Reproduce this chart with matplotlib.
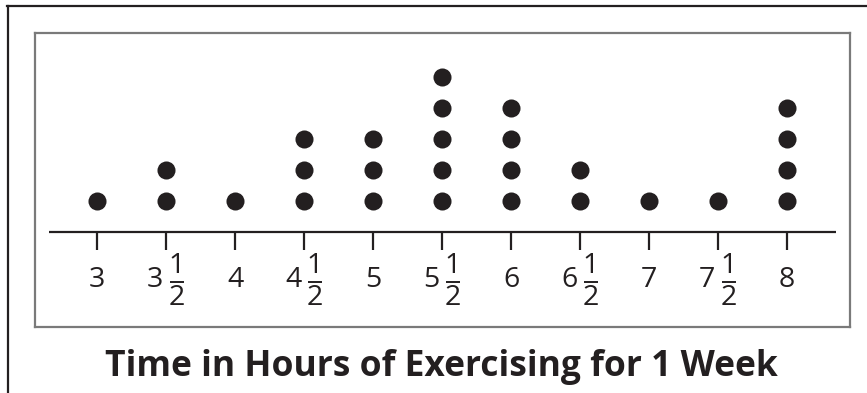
"""Dot plot of weekly exercise time, drawn with matplotlib."""
import matplotlib

matplotlib.use("Agg")
import matplotlib.pyplot as plt
from matplotlib.lines import Line2D

plt.rcParams["font.family"] = ["Open Sans", "DejaVu Sans"]

# hours on the number line and how many people logged each amount
hours = [3, 3.5, 4, 4.5, 5, 5.5, 6, 6.5, 7, 7.5, 8]
counts = [1, 2, 1, 3, 3, 5, 4, 2, 1, 1, 4]
tick_whole = ["3", "3", "4", "4", "5", "5", "6", "6", "7", "7", "8"]
tick_frac = ["", "1/2", "", "1/2", "", "1/2", "", "1/2", "", "1/2", ""]
title = "Time in Hours of Exercising for 1 Week"

INK = "#231f20"
W, H, DPI = 867, 393, 100

fig = plt.figure(figsize=(W / DPI, H / DPI), dpi=DPI)

# outer frame: top and left rules only
fig.add_artist(Line2D([7 / W, 1], [1 - 6 / H, 1 - 6 / H], color=INK, lw=1.6,
                      transform=fig.transFigure))
fig.add_artist(Line2D([7.5 / W, 7.5 / W], [0, 1 - 6 / H], color=INK, lw=1.6,
                      transform=fig.transFigure))

# inner box spans pixels x 35..850, y 33..327
ax = fig.add_axes([35 / W, 1 - 327 / H, (850 - 35) / W, (327 - 33) / H])
px_per_unit = 138.0
ax.set_xlim(3 - (97 - 35) / px_per_unit, 3 + (850 - 97) / px_per_unit)
dot_step = 31.0
ax.set_ylim(-(327 - 232) / dot_step, (232 - 33) / dot_step)
ax.set_xticks([])
ax.set_yticks([])
for s in ax.spines.values():
    s.set_color("#7a7a7a")
    s.set_linewidth(1.6)

# number line
ax.plot([3 - 48 / px_per_unit, 8 + 49 / px_per_unit], [0, 0], color=INK,
        lw=1.6, solid_capstyle="butt")
ax.vlines(hours, -18 / dot_step, 0, color=INK, lw=1.6)

# stacked dots
for h, c in zip(hours, counts):
    ax.plot([h] * c, range(1, c + 1), "o", color=INK, ms=13, mec="none")

# tick labels, with stacked fractions for the halves
fs = 20.5
label_y = -(280 - 232) / dot_step
for h, whole, frac in zip(hours, tick_whole, tick_frac):
    if not frac:
        ax.text(h, label_y, whole, ha="center", va="center", fontsize=fs,
                color=INK)
        continue
    num, den = frac.split("/")
    ax.text(h - 11 / px_per_unit, label_y, whole, ha="center", va="center",
            fontsize=fs, color=INK)
    fx = h + 11 / px_per_unit
    ax.text(fx, -(266 - 232) / dot_step, num, ha="center", va="center",
            fontsize=fs, color=INK)
    ax.plot([fx - 7 / px_per_unit, fx + 7 / px_per_unit],
            [-(282 - 232) / dot_step] * 2, color=INK, lw=1.4,
            solid_capstyle="butt")
    ax.text(fx, -(298 - 232) / dot_step, den, ha="center", va="center",
            fontsize=fs, color=INK)

fig.text(441 / W, 1 - 367 / H, title, ha="center", va="center",
         fontsize=25.5, fontweight="bold", color=INK)

fig.savefig("out.png", dpi=DPI)
